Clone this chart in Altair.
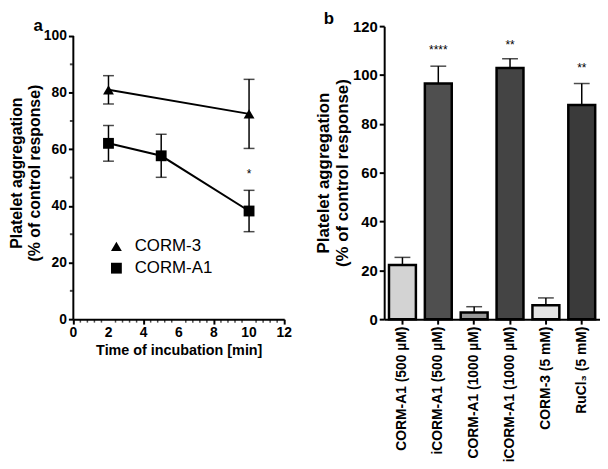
import altair as alt
import pandas as pd

FONT = "Liberation Sans"

# ---------- Panel a data ----------
series_names = ["CORM-3", "CORM-A1"]
corm3_time = [2, 10]
corm3_mean = [81.0, 72.5]
corm3_err = [5.0, 12.2]
cormA1_time = [2, 5, 10]
cormA1_mean = [62.1, 57.7, 38.2]
cormA1_err = [6.3, 7.6, 7.3]
star_a_time = [10]
star_a_y = [52.5]
star_a_text = ["*"]

# axis tick positions / labels
x_major_a = [0, 2, 4, 6, 8, 10, 12]
x_major_a_labels = ["0", "2", "4", "6", "8", "10", "12"]
x_minor_a = [0.4, 0.8, 1.2, 1.6, 2.4, 2.8, 3.2, 3.6, 4.4, 4.8, 5.2, 5.6, 6.4, 6.8, 7.2, 7.6,
             8.4, 8.8, 9.2, 9.6, 10.4, 10.8, 11.2, 11.6]
y_major_a = [0, 20, 40, 60, 80, 100]
y_minor_a = [10, 30, 50, 70, 90]

# ---------- Panel b data ----------
categories = [
    "CORM-A1 (500 µM)",
    "iCORM-A1 (500 µM)",
    "CORM-A1 (1000 µM)",
    "iCORM-A1 (1000 µM)",
    "CORM-3 (5 mM)",
    "RuCl₃ (5 mM)",
]
bar_values = [22.2, 96.5, 2.7, 102.9, 5.7, 87.7]
bar_upper = [25.3, 103.6, 5.1, 106.6, 8.7, 96.5]
bar_stars = ["", "****", "", "**", "", "**"]
bar_star_y = [0, 111.7, 0, 113.7, 0, 104.3]
bar_colors = ["#d3d3d3", "#4f4f4f", "#999999", "#444444", "#e4e4e4", "#3a3a3a"]
y_ticks_b = [0, 10, 20, 30, 40, 50, 60, 70, 80, 90, 100, 110, 120]

# ---------- build tables ----------
rows = []
for t, m, e in zip(corm3_time, corm3_mean, corm3_err):
    rows.append({"series": series_names[0], "time": t, "mean": m, "lo": m - e, "hi": m + e})
for t, m, e in zip(cormA1_time, cormA1_mean, cormA1_err):
    rows.append({"series": series_names[1], "time": t, "mean": m, "lo": m - e, "hi": m + e})
df_a = pd.DataFrame(rows)
df_star_a = pd.DataFrame({"time": star_a_time, "y": star_a_y, "t": star_a_text})
df_xminor_a = pd.DataFrame({"v": x_minor_a})
df_xmajor_a = pd.DataFrame({"v": x_major_a, "lab": x_major_a_labels})
df_yminor_a = pd.DataFrame({"v": y_minor_a})

df_b = pd.DataFrame({"cat": categories, "value": bar_values, "upper": bar_upper})
df_star_b = pd.DataFrame({"cat": categories, "t": bar_stars, "y": bar_star_y})
df_star_b = df_star_b[df_star_b["t"] != ""]

H = 296
Y_TOP_A = 100 * H / 286  # panel a's 100 sits a little lower than panel b's 120

# ---------- Panel a ----------
x_scale_a = alt.Scale(domain=[0, 12], nice=False)
y_scale_a = alt.Scale(domain=[0, Y_TOP_A], nice=False)

x_a = alt.X(
    "time:Q",
    scale=x_scale_a,
    axis=alt.Axis(values=x_major_a, labels=False, tickSize=5,
                  title="Time of incubation [min]", titleFontSize=14.5, titlePadding=19),
)
y_a = alt.Y(
    "mean:Q",
    scale=y_scale_a,
    axis=alt.Axis(
        values=y_major_a,
        labelOverlap=False,
        labelFontSize=14,
        labelPadding=2,
        tickSize=5,
        domain=False,
        title=["Platelet aggregation", "(% of control response)"],
        titleFontSize=16,
        titleLineHeight=18,
        titlePadding=1,
    ),
)

base_a = alt.Chart(df_a)
yaxis_line = alt.Chart(df_star_a).mark_rule(color="black", strokeWidth=2).encode(
    x=alt.datum(0, type="quantitative"), y=alt.datum(0, type="quantitative"), y2=alt.datum(100)
)
xminor_a = alt.Chart(df_xminor_a).mark_tick(color="black", orient="vertical", size=3, thickness=1.5).encode(
    x="v:Q", y=alt.datum(0, type="quantitative"), yOffset=alt.value(2)
)
xlabels_a = alt.Chart(df_xmajor_a).mark_text(
    font=FONT, fontSize=14, fontWeight="bold", color="black", baseline="top", dy=7
).encode(x="v:Q", y=alt.datum(0, type="quantitative"), text="lab:N")
yminor_a = alt.Chart(df_yminor_a).mark_tick(color="black", orient="horizontal", size=3, thickness=2).encode(
    y="v:Q", x=alt.datum(0, type="quantitative"), xOffset=alt.value(-2)
)
line_a = base_a.mark_line(color="black", strokeWidth=2).encode(x=x_a, y=y_a, detail="series:N")
err_a = base_a.mark_rule(color="black", strokeWidth=1.5).encode(x="time:Q", y="lo:Q", y2="hi:Q")
cap_hi = base_a.mark_tick(color="black", orient="horizontal", size=11, thickness=1.5).encode(x="time:Q", y="hi:Q")
cap_lo = base_a.mark_tick(color="black", orient="horizontal", size=11, thickness=1.5).encode(x="time:Q", y="lo:Q")
pts_a = base_a.mark_point(filled=True, size=120, color="black", opacity=1).encode(
    x="time:Q",
    y="mean:Q",
    shape=alt.Shape(
        "series:N",
        scale=alt.Scale(domain=series_names, range=["triangle-up", "square"]),
        legend=alt.Legend(
            title=None,
            orient="none",
            legendX=35,
            legendY=214,
            labelFont=FONT,
            labelFontSize=17,
            labelFontWeight="normal",
            labelColor="black",
            symbolSize=120,
            symbolFillColor="black",
            symbolStrokeColor="black",
            rowPadding=4,
            labelOffset=10,
        ),
    ),
)
star_a = alt.Chart(df_star_a).mark_text(font=FONT, fontSize=12, color="black", dy=4).encode(
    x="time:Q", y="y:Q", text="t:N"
)
panel_a = alt.layer(
    yaxis_line, xminor_a, xlabels_a, yminor_a, line_a, err_a, cap_hi, cap_lo, pts_a, star_a
).properties(
    width=213,
    height=H,
    title=alt.TitleParams("a", anchor="start", fontSize=17, fontWeight="bold",
                          font=FONT, dx=25, offset=-9),
)

# ---------- Panel b ----------
y_scale_b = alt.Scale(domain=[0, 120], nice=False)
x_b = alt.X(
    "cat:N",
    sort=categories,
    scale=alt.Scale(paddingInner=0.25, paddingOuter=0.134),
    axis=alt.Axis(title=None, labelAngle=-90, labelFontSize=14, labelPadding=2, tickSize=5),
)
y_b = alt.Y(
    "value:Q",
    scale=y_scale_b,
    axis=alt.Axis(
        values=y_ticks_b,
        labelExpr="datum.value % 20 == 0 ? datum.label : ''",
        tickSize={"condition": {"test": "datum.value % 20 == 0", "value": 5}, "value": 3},
        labelOverlap=False,
        labelFontSize=15,
        labelPadding=2,
        title=["Platelet aggregation", "(% of control response)"],
        titleFontSize=17,
        titleLineHeight=19,
        titlePadding=1,
    ),
)
base_b = alt.Chart(df_b)
err_b = base_b.mark_rule(color="black", strokeWidth=1.5).encode(x=x_b, y="value:Q", y2="upper:Q")
cap_b = base_b.mark_tick(color="black", size=16, thickness=1.5).encode(x=x_b, y="upper:Q")
bars_b = base_b.mark_bar(stroke="black", strokeWidth=2.5).encode(
    x=x_b,
    y=y_b,
    color=alt.Color("cat:N", scale=alt.Scale(domain=categories, range=bar_colors), legend=None),
)
star_b = alt.Chart(df_star_b).mark_text(font=FONT, fontSize=12, color="black", dy=4).encode(
    x=alt.X("cat:N", sort=categories), y="y:Q", text="t:N"
)
panel_b = alt.layer(err_b, cap_b, bars_b, star_b).properties(
    width=218,
    height=H,
    title=alt.TitleParams("b", anchor="start", fontSize=17, fontWeight="bold",
                          font=FONT, dx=9, offset=-9),
)

chart = (
    alt.hconcat(panel_a, panel_b, spacing=22)
    .properties(padding=0)
    .configure_view(stroke=None)
    .configure_axis(
        labelFont=FONT,
        labelFontWeight="bold",
        labelColor="black",
        titleFont=FONT,
        titleFontWeight="bold",
        titleColor="black",
        domainColor="black",
        domainWidth=2,
        tickColor="black",
        tickWidth=2,
        grid=False,
    )
)

chart.save("out.html", embed_options={"renderer": "svg", "actions": False})
